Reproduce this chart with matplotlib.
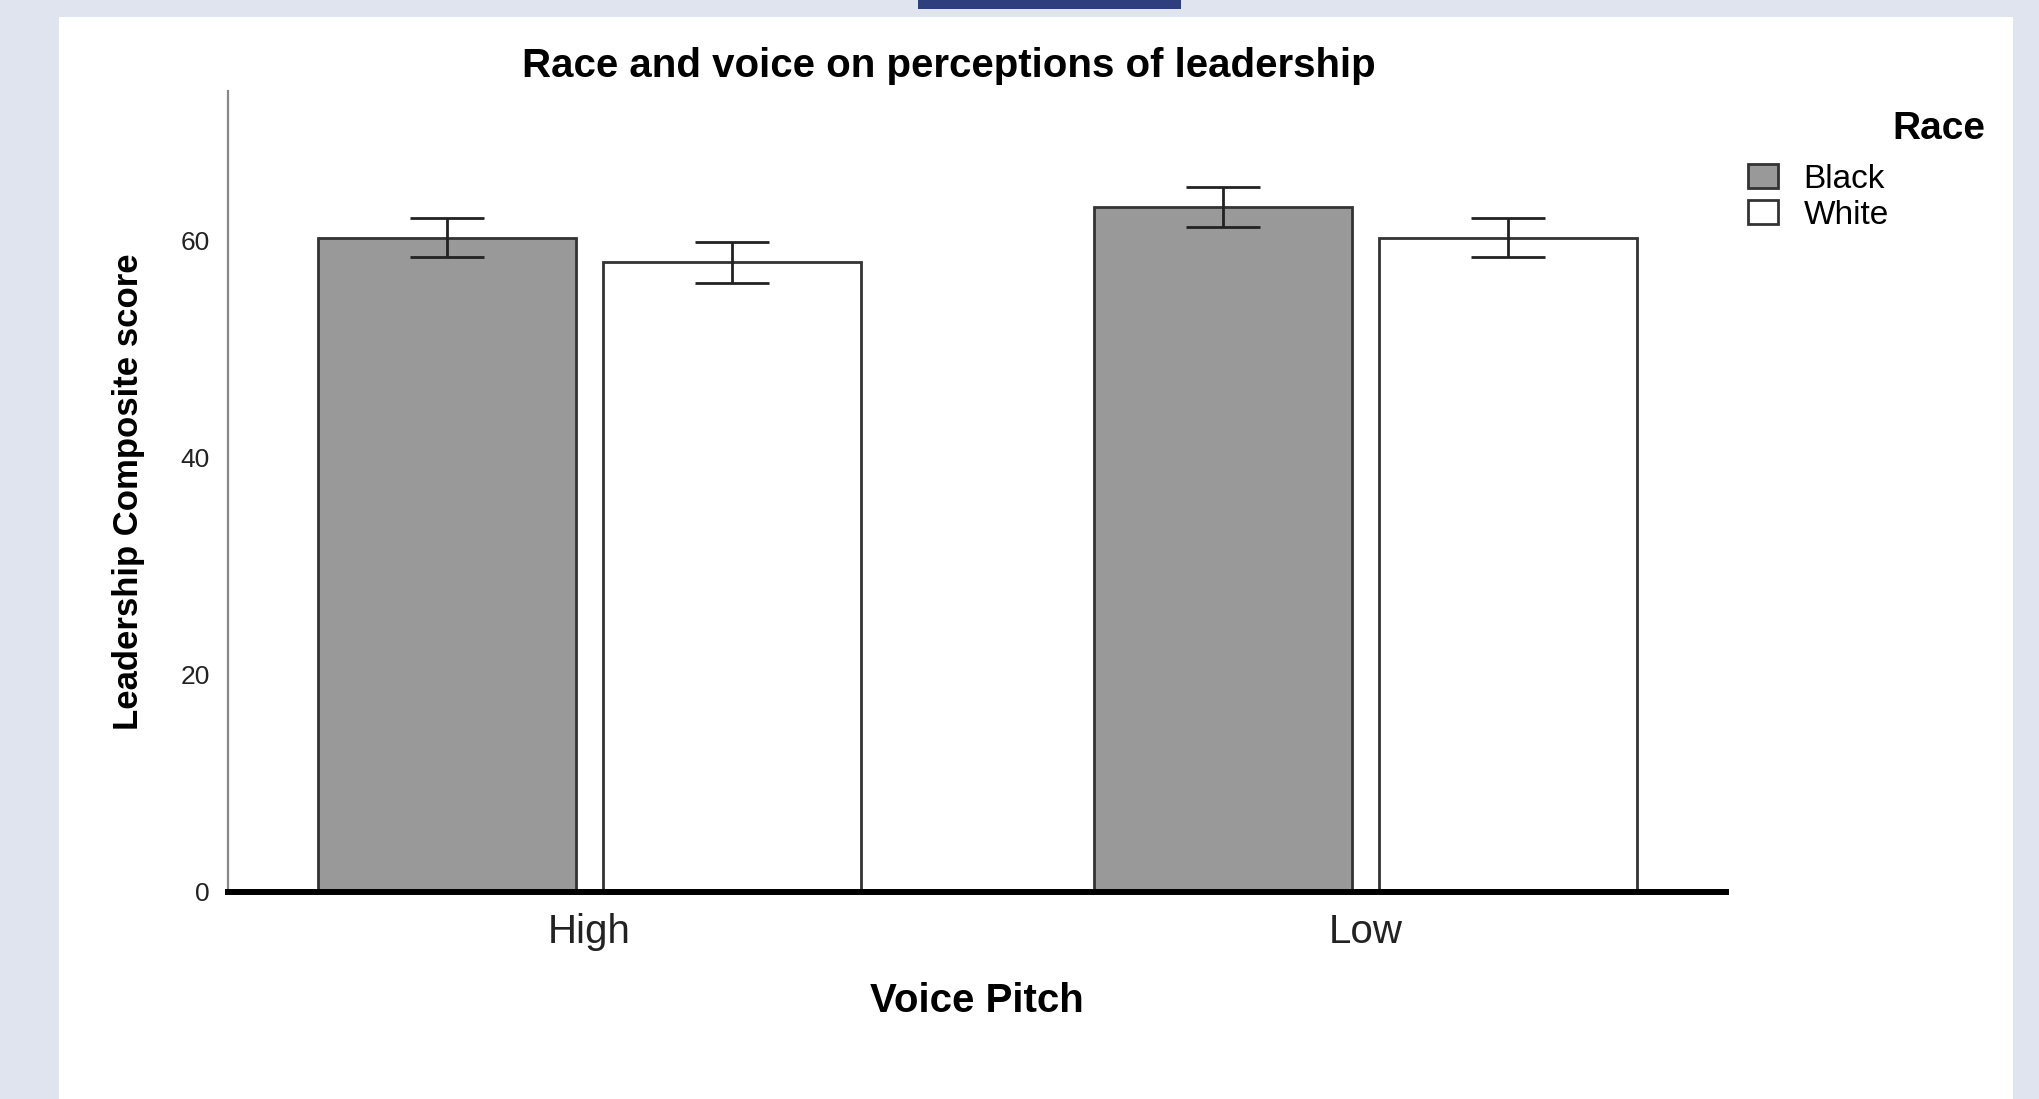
import matplotlib.pyplot as plt
import matplotlib.patches as mpatches
import numpy as np

plt.rcParams["font.family"] = ["Liberation Sans", "DejaVu Sans"]

# data
pitch = ["High", "Low"]
race = ["Black", "White"]
black_mean = [60.3, 63.1]
white_mean = [58.0, 60.3]
black_ci = [1.8, 1.85]
white_ci = [1.85, 1.8]
y_ticks = [0, 20, 40, 60]

fig = plt.figure(figsize=(20.39, 10.99), dpi=100, facecolor="#e0e4ee")

# white panel behind the chart + link underline at the top
fig.patches.append(mpatches.Rectangle((0.0287, 0), 0.9586, 0.9845, transform=fig.transFigure,
                                      facecolor="white", edgecolor="none", zorder=-2))
fig.patches.append(mpatches.Rectangle((0.4502, 0.9915), 0.129, 0.0085, transform=fig.transFigure,
                                      facecolor="#2e3f7e", edgecolor="none", zorder=-1))

ax = fig.add_axes([0.1118, 0.1884, 0.7347, 0.7288])
ax.set_facecolor("none")

x = np.arange(len(pitch))
width = 0.3325
offset = 0.184

ax.bar(x - offset, black_mean, width, color="#999999", edgecolor="#333333", linewidth=2, label=race[0], zorder=2)
ax.bar(x + offset, white_mean, width, color="white", edgecolor="#333333", linewidth=2, label=race[1], zorder=2)
ax.errorbar(x - offset, black_mean, yerr=black_ci, fmt="none", ecolor="#222222", elinewidth=2,
            capsize=26.7, capthick=2, zorder=3)
ax.errorbar(x + offset, white_mean, yerr=white_ci, fmt="none", ecolor="#222222", elinewidth=2,
            capsize=26.7, capthick=2, zorder=3)

ax.set_xlim(-0.466, 1.4646)
ax.set_ylim(0, 73.8)
ax.set_xticks(x)
ax.set_xticklabels(pitch, fontsize=29, color="#222222")
ax.set_yticks(y_ticks)
ax.set_yticklabels([str(v) for v in y_ticks], fontsize=19, color="#222222")
ax.tick_params(axis="both", length=0)
ax.tick_params(axis="x", pad=15)
ax.tick_params(axis="y", pad=13)

for s in ["top", "right"]:
    ax.spines[s].set_visible(False)
ax.spines["left"].set_color("#888888")
ax.spines["left"].set_linewidth(1.6)
ax.spines["bottom"].set_color("black")
ax.spines["bottom"].set_linewidth(4.3)
ax.spines["bottom"].set_zorder(4)

fig.text(0.4654, 0.940, "Race and voice on perceptions of leadership", fontsize=29,
         fontweight="bold", ha="center", va="center")
fig.text(0.0631, 0.5528, "Leadership Composite score", fontsize=25, fontweight="bold",
         rotation=90, ha="center", va="center")
fig.text(0.479, 0.0892, "Voice Pitch", fontsize=29, fontweight="bold", ha="center", va="center")

fig.text(0.9738, 0.8825, "Race", fontsize=28, fontweight="bold", ha="right", va="center")
fig.legend(loc="upper left", bbox_to_anchor=(0.8575, 0.851), frameon=False, fontsize=24,
           borderpad=0, handlelength=0.9, handleheight=0.75, handletextpad=0.75,
           labelspacing=0.15, borderaxespad=0)

fig.savefig("out.png", dpi=100, facecolor=fig.get_facecolor())
